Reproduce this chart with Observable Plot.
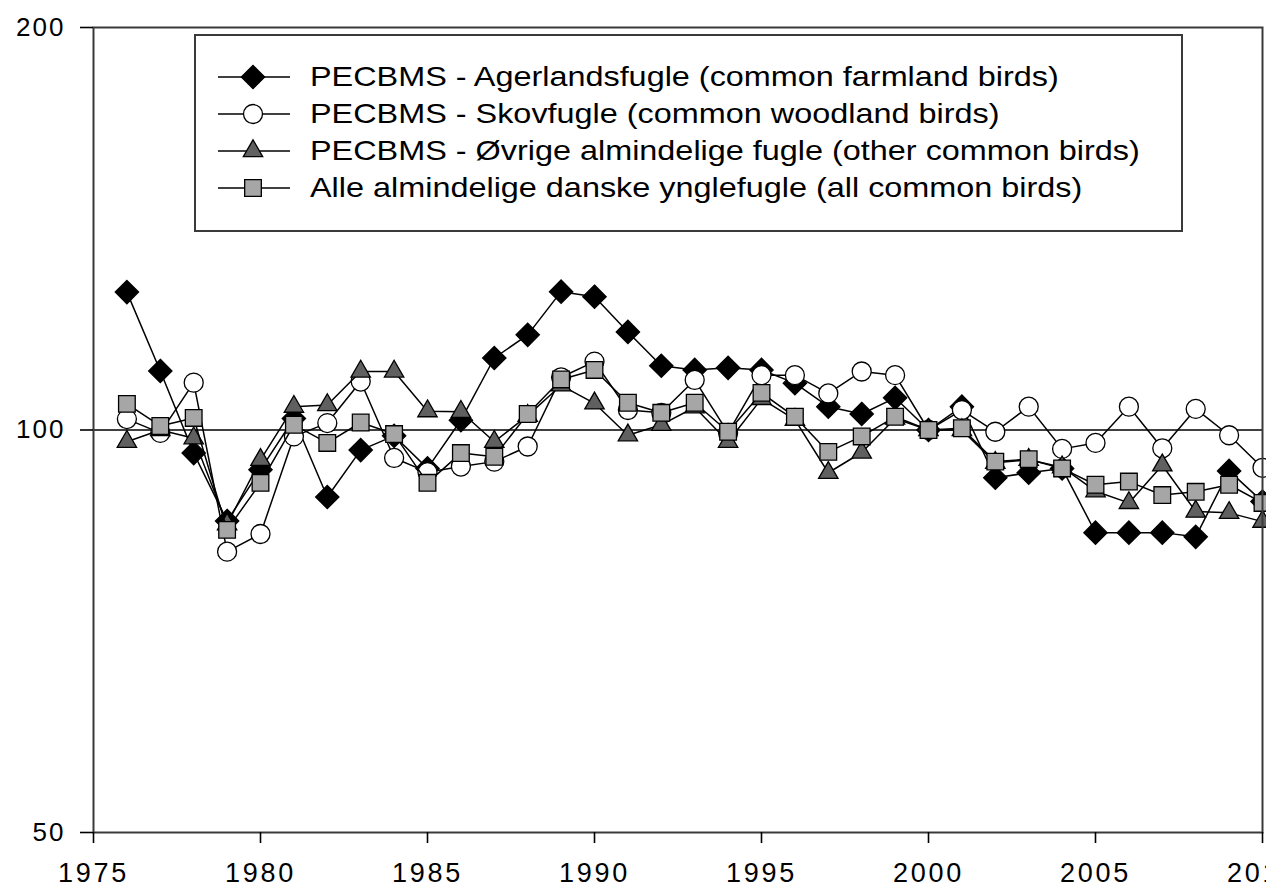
<!DOCTYPE html>
<html>
<head>
<meta charset="utf-8">
<script src="https://cdn.jsdelivr.net/npm/d3@7"></script>
<script src="https://cdn.jsdelivr.net/npm/@observablehq/plot@0.6"></script>
<style>
html, body { margin: 0; padding: 0; overflow: hidden; background: #fff; }
#wrap { position: relative; width: 1300px; height: 887px; }
#legend { position: absolute; left: 0; top: 0; pointer-events: none; }
g[aria-label="x-axis tick label"] text { letter-spacing: 2.8px; }
g[aria-label="y-axis tick label"] text { letter-spacing: 2px; }
</style>
</head>
<body>
<div id="wrap"></div>
<script>
// ---- Data ----
const years = [1976,1977,1978,1979,1980,1981,1982,1983,1984,1985,1986,1987,1988,1989,1990,1991,1992,1993,1994,1995,1996,1997,1998,1999,2000,2001,2002,2003,2004,2005,2006,2007,2008,2009,2010];

const farmland = [126.8,110.7,96.1,85.5,93.4,102,89.1,96.6,99,93.6,101.7,113.2,117.8,126.9,125.8,118.4,111.7,110.9,111.3,110.9,108.4,104.1,102.8,105.7,100,104.1,92.1,92.9,93.6,83.8,83.8,83.8,83.2,93.2,88.4];
const woodland = [101.9,99.5,108.5,81.1,83.6,98.9,101.2,108.7,95.3,93,93.9,94.7,97.2,109.5,112.5,103.5,103,109,99.5,109.9,109.9,106.5,110.6,109.9,100,103.5,99.7,104.1,96.8,97.8,104.1,96.9,103.7,99.1,93.7];
const otherBirds = [98,100,98.6,85,95,104.1,104.4,110.6,110.6,103.3,103.2,98,102.5,108,104.7,99.1,100.9,104,98,105.5,101.8,92.9,96.2,102,100,100,94.5,95,93.8,90,88.2,94.1,86.9,86.7,85.4];
const allBirds = [104.6,100.7,102.1,84.2,91.3,100.9,97.8,101.3,99.3,91.3,96.1,95.5,102.8,109.1,110.9,104.8,103,104.8,99.7,106.6,102.3,96.3,98.9,102.3,100,100.3,94.7,95.1,93.6,91,91.5,89.4,89.9,91,88.2];

const seriesNames = [
  "PECBMS - Agerlandsfugle (common farmland birds)",
  "PECBMS - Skovfugle (common woodland birds)",
  "PECBMS - Øvrige almindelige fugle (other common birds)",
  "Alle almindelige danske ynglefugle (all common birds)"
];
const xTicks = [1975,1980,1985,1990,1995,2000,2005,2010];
const yTicks = [50,100,200];

// ---- Styles ----
const seriesValues = [farmland, woodland, otherBirds, allBirds];
const seriesStyle = [
  {symbol: "diamond2", fill: "#000000", r: 10.5},
  {symbol: "circle",   fill: "#ffffff", r: 9.5},
  {symbol: "triangle", fill: "#606060", r: 7.2},
  {symbol: "square",   fill: "#a6a6a6", r: 9.4}
];
const FONT = "'Liberation Sans', Arial, Helvetica, sans-serif";

const seriesMarks = [];
seriesValues.forEach((vals, k) => {
  const data = years.map((year, i) => ({year, value: vals[i]}));
  const st = seriesStyle[k];
  seriesMarks.push(Plot.line(data, {x: "year", y: "value", stroke: "#000", strokeWidth: 1.5}));
  seriesMarks.push(Plot.dot(data, {x: "year", y: "value", symbol: () => st.symbol, r: st.r, fill: st.fill, stroke: "#000", strokeWidth: 1.3}));
});

const chart = Plot.plot({
  width: 1300,
  height: 887,
  marginLeft: 93,
  marginRight: 38,
  marginTop: 27,
  marginBottom: 55,
  style: {maxWidth: "none", background: "#fff", fontFamily: FONT, color: "#000", overflow: "visible"},
  symbol: {type: "identity"},
  x: {domain: [1975, 2010]},
  y: {type: "log", domain: [50, 200]},
  marks: [
    Plot.ruleY([100], {stroke: "#000", strokeWidth: 1.5}),
    ...seriesMarks,
    Plot.frame({stroke: "#3a3a3a", strokeWidth: 2}),
    Plot.axisY({ticks: yTicks, tickSize: 13, tickPadding: 15, fontSize: 26, tickFormat: d => String(d), label: null, strokeWidth: 1.6}),
    Plot.axisX({ticks: xTicks, tickSize: 11, tickPadding: 19, fontSize: 27, tickFormat: d => String(d), label: null, strokeWidth: 1.6})
  ]
});

const wrap = document.getElementById("wrap");
wrap.appendChild(chart);

// ---- Legend (inside the plot area, top) ----
const leg = d3.create("svg").attr("id", "legend").attr("width", 1300).attr("height", 887);
const box = {x: 195, y: 35, w: 987, h: 196};
leg.append("rect").attr("x", box.x).attr("y", box.y).attr("width", box.w).attr("height", box.h)
  .attr("fill", "#fff").attr("stroke", "#3a3a3a").attr("stroke-width", 2);
const rowY0 = 77, rowStep = 37;
const symMap = {diamond2: d3.symbolDiamond2, circle: d3.symbolCircle, triangle: d3.symbolTriangle, square: d3.symbolSquare};
seriesNames.forEach((name, k) => {
  const yy = rowY0 + k * rowStep;
  const st = seriesStyle[k];
  const g = leg.append("g");
  g.append("line").attr("x1", 218).attr("x2", 290).attr("y1", yy).attr("y2", yy).attr("stroke", "#000").attr("stroke-width", 1.5);
  g.append("path").attr("d", d3.symbol(symMap[st.symbol], Math.PI * st.r * st.r)())
    .attr("transform", `translate(253,${yy})`).attr("fill", st.fill).attr("stroke", "#000").attr("stroke-width", 1.3);
  g.append("text").attr("transform", `translate(310,${yy}) scale(1.2,1)`)
    .attr("dy", "0.35em").attr("font-family", FONT).attr("font-size", 27).attr("fill", "#000").text(name);
});
wrap.appendChild(leg.node());
</script>
</body>
</html>
